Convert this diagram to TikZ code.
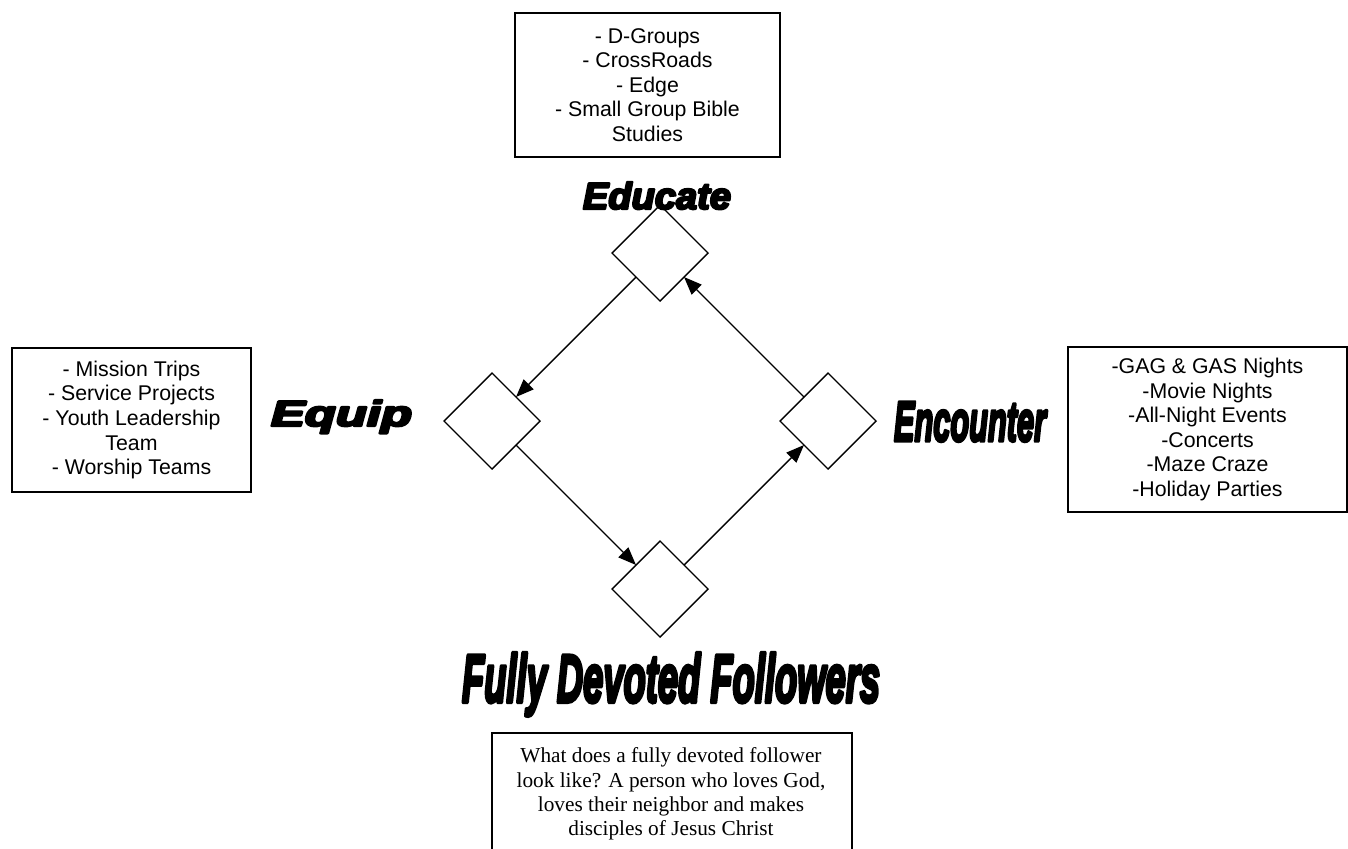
\documentclass[tikz,border=0pt]{standalone}
\usepackage{fontspec}
\setmainfont{Liberation Sans}
\newfontfamily\seriffont{Liberation Serif}
\newfontfamily\heavyfont{Liberation Sans}[UprightFont={* Bold Italic}]
\newcommand\thicktext[1]{\special{pdf:literal q 2 Tr 0.6 w 1 j}#1\special{pdf:literal Q}}
\usetikzlibrary{shapes.geometric,arrows.meta,calc}
\begin{document}
\begin{tikzpicture}[x=1pt,y=-1pt,
  dia/.style={draw, diamond, aspect=1, minimum width=96pt, minimum height=96pt, inner sep=0pt, outer sep=0pt, line width=1.4pt},
  conn/.style={draw, line width=1.4pt, -{Triangle[length=18pt,width=14pt]}},
  listbox/.style={draw, line width=2pt, align=center, inner sep=0pt, font=\fontsize{21.3}{24.6}\selectfont},
  plaintext/.style={align=center, inner sep=0pt, font=\fontsize{21.3}{24.3}\selectfont\seriffont},
  heading/.style={inner sep=0pt, outer sep=0pt},
  boxline/.style={draw, line width=2pt}]
\clip (0,0) rectangle (1348,848);
\fill[white] (0,0) rectangle (1348,848);

% diamonds
\node[dia] (educ) at (660,253) {};
\node[dia] (equip) at (492,421) {};
\node[dia] (enc) at (828,421) {};
\node[dia] (fdf) at (660,589) {};

% connectors
\draw[conn] ($(educ.west)!0.5!(educ.south)$) -- ($(equip.north)!0.5!(equip.east)$);
\draw[conn] ($(equip.east)!0.5!(equip.south)$) -- ($(fdf.north)!0.5!(fdf.west)$);
\draw[conn] ($(fdf.north)!0.5!(fdf.east)$) -- ($(enc.west)!0.5!(enc.south)$);
\draw[conn] ($(enc.north)!0.5!(enc.west)$) -- ($(educ.east)!0.5!(educ.south)$);

% headings
\node[heading, anchor=base] (educlbl) at (657,209) {\resizebox{148pt}{27pt}{\heavyfont\thicktext{Educate}}};
\node[heading, anchor=base west] (equiplbl) at (271,426) {\resizebox{141pt}{26pt}{\heavyfont\thicktext{Equip}}};
\node[heading, anchor=base west] (enclbl) at (894,441) {\resizebox{152pt}{39pt}{\heavyfont\thicktext{Encounter}}};
\node[heading, anchor=base west] (fdflbl) at (462,702) {\resizebox{418pt}{49pt}{\heavyfont\thicktext{Fully Devoted Followers}}};

% list boxes
\node[listbox, minimum width=265pt, minimum height=144pt] (edubox) at (647.5,85)
  {- D-Groups\\- CrossRoads\\- Edge\\- Small Group Bible\\Studies};
\node[listbox, minimum width=239pt, minimum height=144pt] (equipbox) at (131.5,420)
  {- Mission Trips\\- Service Projects\\- Youth Leadership\\Team\\- Worship Teams};
\node[listbox, minimum width=279pt, minimum height=165pt] (encbox) at (1207.5,429.5)
  {-GAG \& GAS Nights\\-Movie Nights\\-All-Night Events\\-Concerts\\-Maze Craze\\-Holiday Parties};

% bottom box
\node[plaintext] (ffq) at (671,794)
  {What does a fully devoted follower\\look like? A person who loves God,\\loves their neighbor and makes\\disciples of Jesus Christ};
\draw[boxline] (492,733) rectangle (852,880);
\end{tikzpicture}
\end{document}
